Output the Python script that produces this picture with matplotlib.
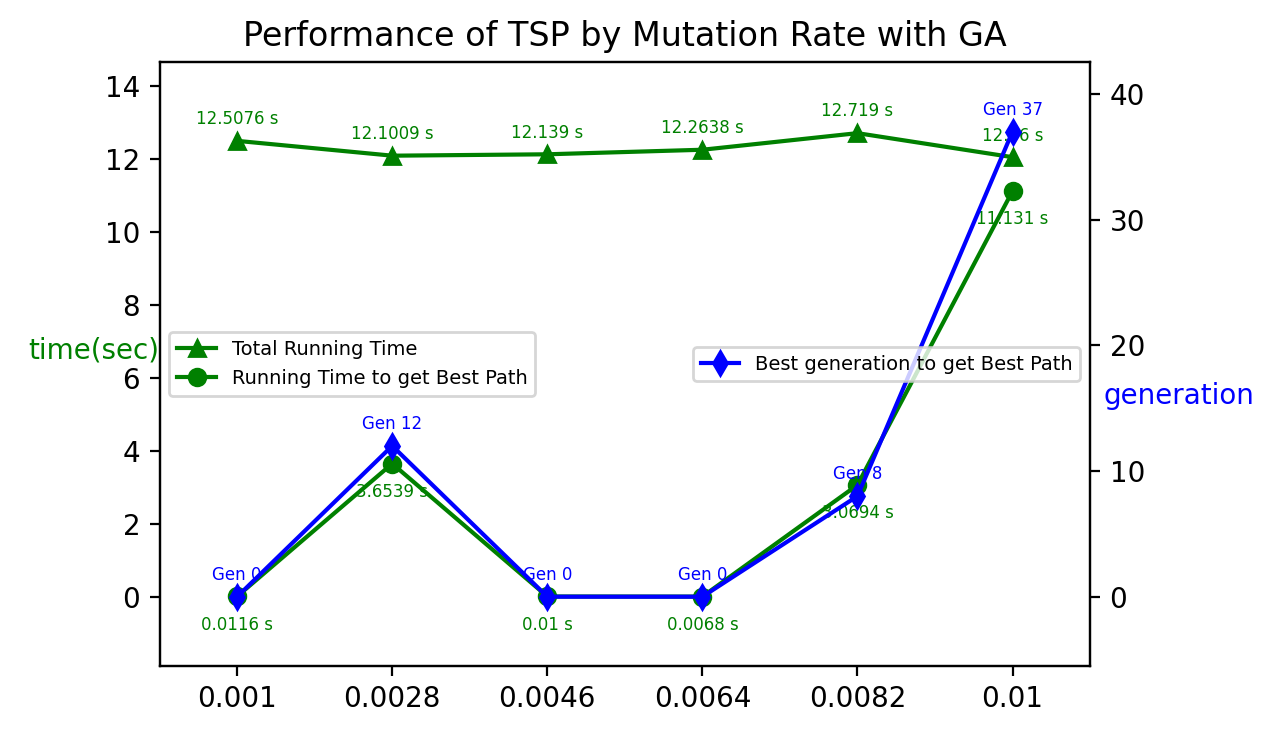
import matplotlib
matplotlib.use("Agg")
import matplotlib.pyplot as plt

rates = ['0.001', '0.0028', '0.0046', '0.0064', '0.0082', '0.01']
total_time = [12.5076, 12.1009, 12.139, 12.2638, 12.719, 12.06]
best_time = [0.0116, 3.6539, 0.01, 0.0068, 3.0694, 11.131]
best_gen = [0, 12, 0, 0, 8, 37]

x = list(range(len(rates)))

fig, ax = plt.subplots(figsize=(6.435, 3.67), dpi=200)
fig.subplots_adjust(left=0.124, right=0.847, top=0.915, bottom=0.093)

ax.plot(x, total_time, color='green', marker='^', label='Total Running Time')
ax.plot(x, best_time, color='green', marker='o', label='Running Time to get Best Path')
for i in x:
    ax.annotate(f'{total_time[i]} s', (i, total_time[i]), xytext=(0, 6), textcoords='offset points',
                ha='center', fontsize=6, color='green')
    ax.annotate(f'{best_time[i]} s', (i, best_time[i]), xytext=(0, -12), textcoords='offset points',
                ha='center', fontsize=6, color='green')
ax.set_ylim(-1.89, 14.66)
ax.set_xlim(-0.5, 5.5)
ax.set_xticks(x)
ax.set_xticklabels(rates)
ax.set_ylabel('time(sec)', color='green', rotation=0, labelpad=4)
ax.legend(loc='center left', fontsize=7)

ax2 = ax.twinx()
ax2.plot(x, best_gen, color='blue', marker='d', label='Best generation to get Best Path')
for i in x:
    ax2.annotate(f'Gen {best_gen[i]}', (i, best_gen[i]), xytext=(0, 6), textcoords='offset points',
                 ha='center', fontsize=6, color='blue')
ax2.set_ylim(-5.49, 42.5)
ax2.set_ylabel('generation', color='blue', rotation=0, labelpad=22)
ax2.yaxis.set_label_coords(1.095, 0.47)
ax2.legend(loc='center right', fontsize=7)

ax.set_title('Performance of TSP by Mutation Rate with GA')
fig.savefig('out.png')
